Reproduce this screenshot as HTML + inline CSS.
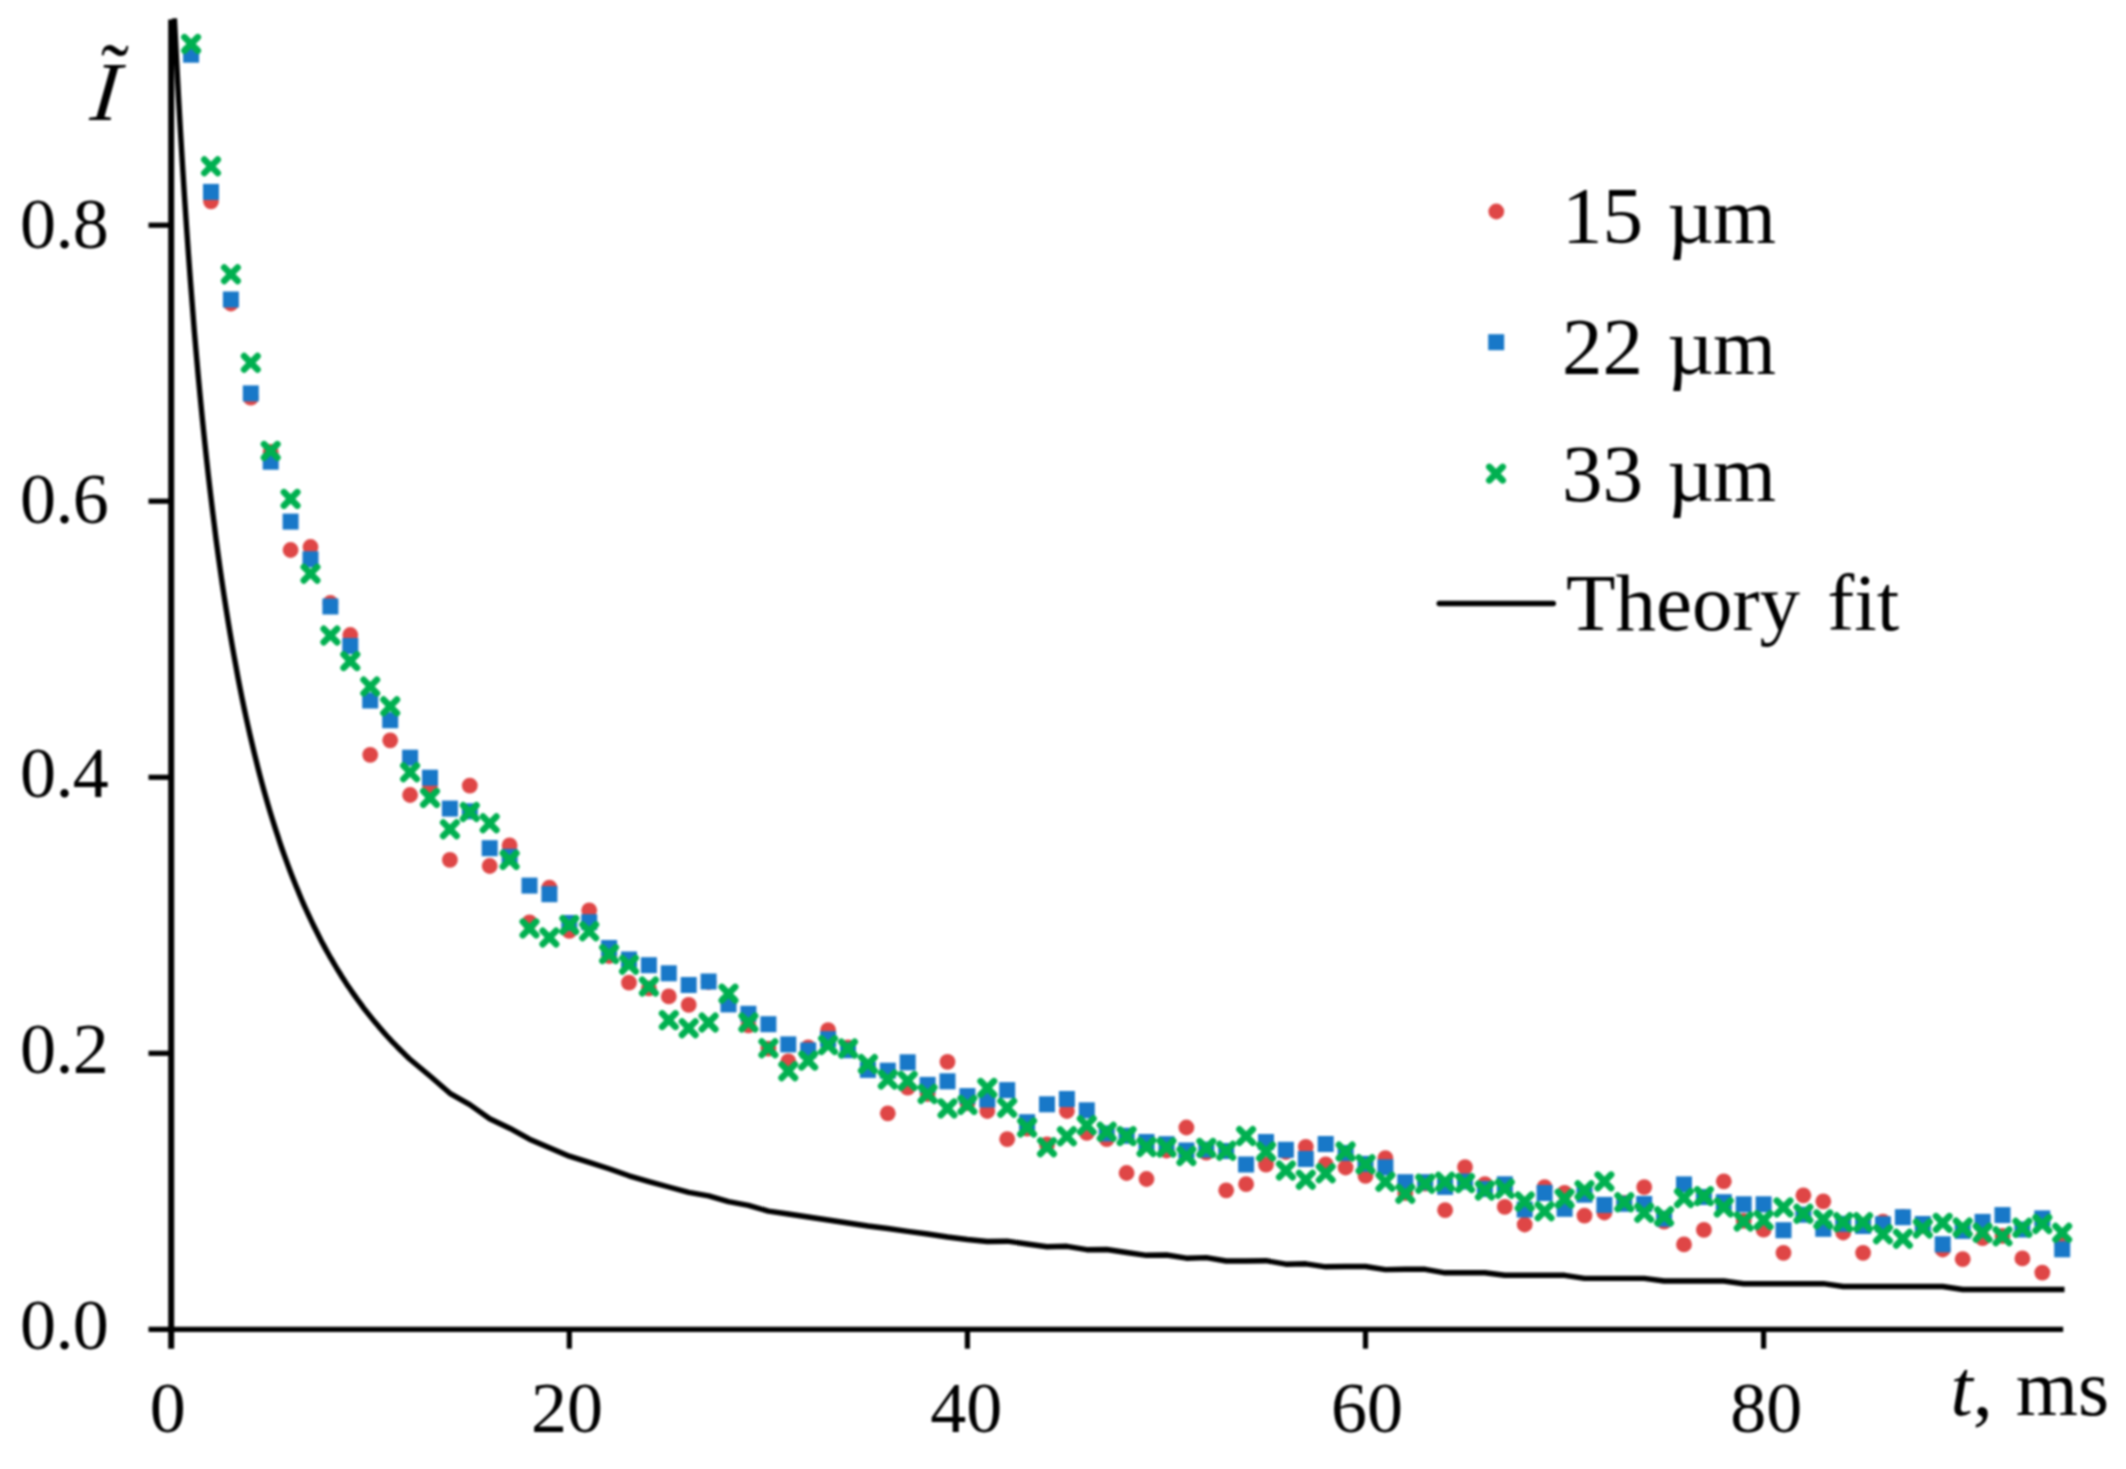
<!DOCTYPE html>
<html lang="en"><head><meta charset="utf-8"><title>Theory fit chart</title>
<style>html,body{margin:0;padding:0;background:#fff}body{width:2126px;height:1469px;overflow:hidden}svg{display:block}#wrap{width:2126px;height:1469px;filter:blur(1px)}text{font-family:"Liberation Serif","Times New Roman",serif;fill:#000}</style></head><body><div id="wrap">
<svg width="2126" height="1469" viewBox="0 0 2126 1469">
<rect width="2126" height="1469" fill="#fff"/>
<g stroke="#000" stroke-width="5.2" fill="none" stroke-linecap="butt">
<path d="M171.2 19.5V1348.7" stroke-width="6"/>
<path d="M148.5 1329.3H2063.2"/>
<path d="M148.5 1053.3H171.2"/>
<path d="M148.5 777.3H171.2"/>
<path d="M148.5 501.2H171.2"/>
<path d="M148.5 225.2H171.2"/>
<path d="M569.3 1329.3V1348.7"/>
<path d="M967.4 1329.3V1348.7"/>
<path d="M1365.5 1329.3V1348.7"/>
<path d="M1763.6 1329.3V1348.7"/>
</g>
<polyline points="174.4,18.3 176.4,57.9 178.4,95.2 180.4,130.4 182.4,163.7 184.4,195.3 186.4,225.2 188.4,253.6 190.4,280.7 192.4,306.4 194.3,330.9 196.3,354.3 198.3,376.7 200.3,398.1 202.3,418.5 204.3,438.1 206.3,456.9 208.3,475.0 210.3,492.3 212.3,509.0 214.3,525.0 216.2,540.4 218.2,555.2 220.2,569.5 222.2,583.4 224.2,596.7 226.2,609.5 228.2,622.0 230.2,634.0 232.2,645.6 234.2,656.9 236.2,667.8 238.1,678.3 240.1,688.6 242.1,698.5 244.1,708.1 246.1,717.5 248.1,726.5 250.1,735.4 252.1,743.9 254.1,752.3 256.1,760.4 258.0,768.2 260.0,775.9 262.0,783.4 264.0,790.7 266.0,797.8 268.0,804.7 270.0,811.4 272.0,818.0 274.0,824.4 276.0,830.6 278.0,836.7 279.9,842.7 281.9,848.5 283.9,854.2 285.9,859.7 287.9,865.2 289.9,870.5 291.9,875.7 293.9,880.7 295.9,885.7 297.9,890.6 299.8,895.3 301.8,900.0 303.8,904.6 305.8,909.0 307.8,913.4 309.8,917.7 311.8,921.9 313.8,926.0 315.8,930.0 317.8,934.0 319.8,937.9 321.7,941.7 323.7,945.4 325.7,949.1 327.7,952.7 329.7,956.3 331.7,959.7 333.7,963.1 335.7,966.5 337.7,969.8 339.7,973.0 341.6,976.2 343.6,979.3 345.6,982.4 347.6,985.4 349.6,988.3 351.6,991.2 353.6,994.1 355.6,996.9 357.6,999.7 359.6,1002.4 361.6,1005.1 363.5,1007.8 365.5,1010.4 367.5,1012.9 369.5,1015.4 371.5,1017.9 373.5,1020.4 375.5,1022.8 377.5,1025.1 379.5,1027.5 381.5,1029.8 383.4,1032.0 385.4,1034.3 387.4,1036.5 389.4,1038.6 391.4,1040.8 393.4,1042.9 395.4,1044.9 397.4,1047.0 399.4,1049.0 401.4,1051.0 403.4,1052.9 405.3,1054.9 407.3,1056.8 409.3,1058.7 430.0,1076.0 449.9,1093.3 469.8,1104.6 489.7,1118.8 509.6,1128.2 529.5,1139.2 549.4,1147.8 569.3,1156.2 589.2,1162.3 609.1,1168.8 629.0,1175.8 648.9,1181.6 668.8,1187.0 688.7,1192.3 708.6,1195.9 728.5,1201.7 748.4,1205.3 768.4,1211.1 788.3,1214.0 808.2,1217.0 828.1,1220.0 848.0,1223.0 867.9,1226.0 887.8,1228.5 907.7,1231.3 927.6,1234.0 947.5,1237.0 967.4,1239.5 987.3,1241.5 1007.2,1241.2 1027.1,1244.0 1047.0,1246.7 1066.9,1246.3 1086.8,1249.7 1106.7,1249.5 1126.6,1252.5 1146.5,1255.3 1166.5,1255.0 1186.4,1258.2 1206.3,1257.6 1226.2,1261.0 1246.1,1261.0 1266.0,1260.7 1285.9,1264.2 1305.8,1263.8 1325.7,1266.8 1345.6,1266.5 1365.5,1266.5 1385.4,1269.6 1405.3,1269.3 1425.2,1269.3 1445.1,1272.8 1465.0,1272.7 1484.9,1272.7 1504.8,1275.3 1524.7,1275.3 1544.6,1275.3 1564.6,1275.3 1584.5,1278.4 1604.4,1278.4 1624.3,1278.4 1644.2,1278.4 1664.1,1281.0 1684.0,1281.0 1703.9,1281.0 1723.8,1281.0 1743.7,1283.7 1763.6,1283.7 1783.5,1283.7 1803.4,1283.7 1823.3,1283.7 1843.2,1286.5 1863.1,1286.5 1883.0,1286.5 1902.9,1286.5 1922.8,1286.5 1942.7,1286.5 1962.7,1289.5 1982.6,1289.5 2002.5,1289.5 2022.4,1289.5 2042.3,1289.5 2062.2,1289.5 2064.5,1289.5" fill="none" stroke="#000" stroke-width="5.4" stroke-linejoin="round" stroke-linecap="butt"/>
<g fill="#df4646"><circle cx="191.1" cy="54.0" r="7.9"/><circle cx="211.0" cy="201.3" r="7.9"/><circle cx="230.9" cy="303.5" r="7.9"/><circle cx="250.8" cy="397.7" r="7.9"/><circle cx="270.7" cy="452.0" r="7.9"/><circle cx="290.6" cy="550.0" r="7.9"/><circle cx="310.5" cy="547.0" r="7.9"/><circle cx="330.4" cy="603.0" r="7.9"/><circle cx="350.3" cy="635.0" r="7.9"/><circle cx="370.2" cy="754.8" r="7.9"/><circle cx="390.2" cy="740.3" r="7.9"/><circle cx="410.1" cy="795.0" r="7.9"/><circle cx="430.0" cy="786.0" r="7.9"/><circle cx="449.9" cy="859.9" r="7.9"/><circle cx="469.8" cy="785.7" r="7.9"/><circle cx="489.7" cy="866.0" r="7.9"/><circle cx="509.6" cy="845.4" r="7.9"/><circle cx="529.5" cy="922.3" r="7.9"/><circle cx="549.4" cy="887.7" r="7.9"/><circle cx="569.3" cy="930.8" r="7.9"/><circle cx="589.2" cy="910.3" r="7.9"/><circle cx="609.1" cy="956.0" r="7.9"/><circle cx="629.0" cy="982.7" r="7.9"/><circle cx="648.9" cy="988.4" r="7.9"/><circle cx="668.8" cy="996.4" r="7.9"/><circle cx="688.7" cy="1004.9" r="7.9"/><circle cx="708.6" cy="982.0" r="7.9"/><circle cx="728.5" cy="1004.0" r="7.9"/><circle cx="748.4" cy="1025.3" r="7.9"/><circle cx="768.4" cy="1048.6" r="7.9"/><circle cx="788.3" cy="1061.3" r="7.9"/><circle cx="808.2" cy="1047.4" r="7.9"/><circle cx="828.1" cy="1030.2" r="7.9"/><circle cx="848.0" cy="1047.5" r="7.9"/><circle cx="867.9" cy="1068.0" r="7.9"/><circle cx="887.8" cy="1113.3" r="7.9"/><circle cx="907.7" cy="1087.7" r="7.9"/><circle cx="927.6" cy="1094.0" r="7.9"/><circle cx="947.5" cy="1061.8" r="7.9"/><circle cx="967.4" cy="1103.0" r="7.9"/><circle cx="987.3" cy="1111.0" r="7.9"/><circle cx="1007.2" cy="1139.2" r="7.9"/><circle cx="1027.1" cy="1128.6" r="7.9"/><circle cx="1047.0" cy="1144.4" r="7.9"/><circle cx="1066.9" cy="1111.0" r="7.9"/><circle cx="1086.8" cy="1132.9" r="7.9"/><circle cx="1106.7" cy="1139.2" r="7.9"/><circle cx="1126.6" cy="1173.0" r="7.9"/><circle cx="1146.5" cy="1179.0" r="7.9"/><circle cx="1166.5" cy="1150.5" r="7.9"/><circle cx="1186.4" cy="1127.5" r="7.9"/><circle cx="1206.3" cy="1152.6" r="7.9"/><circle cx="1226.2" cy="1190.3" r="7.9"/><circle cx="1246.1" cy="1184.2" r="7.9"/><circle cx="1266.0" cy="1164.6" r="7.9"/><circle cx="1285.9" cy="1152.0" r="7.9"/><circle cx="1305.8" cy="1146.8" r="7.9"/><circle cx="1325.7" cy="1164.4" r="7.9"/><circle cx="1345.6" cy="1167.5" r="7.9"/><circle cx="1365.5" cy="1175.9" r="7.9"/><circle cx="1385.4" cy="1158.1" r="7.9"/><circle cx="1405.3" cy="1193.0" r="7.9"/><circle cx="1425.2" cy="1183.6" r="7.9"/><circle cx="1445.1" cy="1210.2" r="7.9"/><circle cx="1465.0" cy="1167.1" r="7.9"/><circle cx="1484.9" cy="1184.1" r="7.9"/><circle cx="1504.8" cy="1206.9" r="7.9"/><circle cx="1524.7" cy="1224.5" r="7.9"/><circle cx="1544.6" cy="1187.2" r="7.9"/><circle cx="1564.6" cy="1192.8" r="7.9"/><circle cx="1584.5" cy="1215.6" r="7.9"/><circle cx="1604.4" cy="1212.5" r="7.9"/><circle cx="1624.3" cy="1203.0" r="7.9"/><circle cx="1644.2" cy="1187.1" r="7.9"/><circle cx="1664.1" cy="1221.7" r="7.9"/><circle cx="1684.0" cy="1244.4" r="7.9"/><circle cx="1703.9" cy="1229.9" r="7.9"/><circle cx="1723.8" cy="1181.3" r="7.9"/><circle cx="1743.7" cy="1220.8" r="7.9"/><circle cx="1763.6" cy="1229.7" r="7.9"/><circle cx="1783.5" cy="1252.8" r="7.9"/><circle cx="1803.4" cy="1195.3" r="7.9"/><circle cx="1823.3" cy="1201.3" r="7.9"/><circle cx="1843.2" cy="1232.5" r="7.9"/><circle cx="1863.1" cy="1252.8" r="7.9"/><circle cx="1883.0" cy="1221.7" r="7.9"/><circle cx="1902.9" cy="1217.0" r="7.9"/><circle cx="1922.8" cy="1226.0" r="7.9"/><circle cx="1942.7" cy="1249.5" r="7.9"/><circle cx="1962.7" cy="1259.2" r="7.9"/><circle cx="1982.6" cy="1238.2" r="7.9"/><circle cx="2002.5" cy="1236.0" r="7.9"/><circle cx="2022.4" cy="1258.4" r="7.9"/><circle cx="2042.3" cy="1272.6" r="7.9"/><circle cx="2062.2" cy="1243.0" r="7.9"/><circle cx="1496.3" cy="211.5" r="7.9"/></g>
<g fill="#1878c8"><rect x="183.1" y="46.7" width="16" height="16"/><rect x="203.0" y="183.9" width="16" height="16"/><rect x="222.9" y="291.5" width="16" height="16"/><rect x="242.8" y="385.4" width="16" height="16"/><rect x="262.7" y="453.7" width="16" height="16"/><rect x="282.6" y="513.6" width="16" height="16"/><rect x="302.5" y="551.3" width="16" height="16"/><rect x="322.4" y="598.5" width="16" height="16"/><rect x="342.3" y="638.0" width="16" height="16"/><rect x="362.2" y="692.5" width="16" height="16"/><rect x="382.2" y="712.2" width="16" height="16"/><rect x="402.1" y="749.7" width="16" height="16"/><rect x="422.0" y="769.7" width="16" height="16"/><rect x="441.9" y="800.6" width="16" height="16"/><rect x="461.8" y="803.3" width="16" height="16"/><rect x="481.7" y="840.2" width="16" height="16"/><rect x="501.6" y="848.8" width="16" height="16"/><rect x="521.5" y="877.6" width="16" height="16"/><rect x="541.4" y="886.2" width="16" height="16"/><rect x="561.3" y="915.0" width="16" height="16"/><rect x="581.2" y="914.2" width="16" height="16"/><rect x="601.1" y="940.0" width="16" height="16"/><rect x="621.0" y="951.5" width="16" height="16"/><rect x="640.9" y="957.2" width="16" height="16"/><rect x="660.8" y="965.3" width="16" height="16"/><rect x="680.7" y="977.0" width="16" height="16"/><rect x="700.6" y="973.5" width="16" height="16"/><rect x="720.5" y="996.4" width="16" height="16"/><rect x="740.4" y="1005.8" width="16" height="16"/><rect x="760.4" y="1016.2" width="16" height="16"/><rect x="780.3" y="1036.4" width="16" height="16"/><rect x="800.2" y="1042.5" width="16" height="16"/><rect x="820.1" y="1031.2" width="16" height="16"/><rect x="840.0" y="1042.2" width="16" height="16"/><rect x="859.9" y="1061.9" width="16" height="16"/><rect x="879.8" y="1062.7" width="16" height="16"/><rect x="899.7" y="1054.3" width="16" height="16"/><rect x="919.6" y="1076.9" width="16" height="16"/><rect x="939.5" y="1073.3" width="16" height="16"/><rect x="959.4" y="1088.1" width="16" height="16"/><rect x="979.3" y="1091.5" width="16" height="16"/><rect x="999.2" y="1082.1" width="16" height="16"/><rect x="1019.1" y="1114.2" width="16" height="16"/><rect x="1039.0" y="1096.3" width="16" height="16"/><rect x="1058.9" y="1091.0" width="16" height="16"/><rect x="1078.8" y="1102.3" width="16" height="16"/><rect x="1098.7" y="1125.4" width="16" height="16"/><rect x="1118.6" y="1127.8" width="16" height="16"/><rect x="1138.5" y="1134.0" width="16" height="16"/><rect x="1158.5" y="1136.2" width="16" height="16"/><rect x="1178.4" y="1142.5" width="16" height="16"/><rect x="1198.3" y="1141.6" width="16" height="16"/><rect x="1218.2" y="1143.0" width="16" height="16"/><rect x="1238.1" y="1156.5" width="16" height="16"/><rect x="1258.0" y="1134.0" width="16" height="16"/><rect x="1277.9" y="1141.8" width="16" height="16"/><rect x="1297.8" y="1151.0" width="16" height="16"/><rect x="1317.7" y="1136.0" width="16" height="16"/><rect x="1337.6" y="1145.0" width="16" height="16"/><rect x="1357.5" y="1155.9" width="16" height="16"/><rect x="1377.4" y="1159.4" width="16" height="16"/><rect x="1397.3" y="1174.2" width="16" height="16"/><rect x="1417.2" y="1174.2" width="16" height="16"/><rect x="1437.1" y="1178.9" width="16" height="16"/><rect x="1457.0" y="1173.5" width="16" height="16"/><rect x="1476.9" y="1181.0" width="16" height="16"/><rect x="1496.8" y="1176.3" width="16" height="16"/><rect x="1516.7" y="1201.5" width="16" height="16"/><rect x="1536.6" y="1185.0" width="16" height="16"/><rect x="1556.6" y="1200.8" width="16" height="16"/><rect x="1576.5" y="1186.7" width="16" height="16"/><rect x="1596.4" y="1196.9" width="16" height="16"/><rect x="1616.3" y="1195.8" width="16" height="16"/><rect x="1636.2" y="1196.0" width="16" height="16"/><rect x="1656.1" y="1210.7" width="16" height="16"/><rect x="1676.0" y="1176.4" width="16" height="16"/><rect x="1695.9" y="1189.0" width="16" height="16"/><rect x="1715.8" y="1194.2" width="16" height="16"/><rect x="1735.7" y="1196.3" width="16" height="16"/><rect x="1755.6" y="1196.3" width="16" height="16"/><rect x="1775.5" y="1222.2" width="16" height="16"/><rect x="1795.4" y="1206.7" width="16" height="16"/><rect x="1815.3" y="1220.8" width="16" height="16"/><rect x="1835.2" y="1215.8" width="16" height="16"/><rect x="1855.1" y="1218.0" width="16" height="16"/><rect x="1875.0" y="1216.3" width="16" height="16"/><rect x="1894.9" y="1209.2" width="16" height="16"/><rect x="1914.8" y="1216.0" width="16" height="16"/><rect x="1934.7" y="1236.3" width="16" height="16"/><rect x="1954.7" y="1222.9" width="16" height="16"/><rect x="1974.6" y="1213.9" width="16" height="16"/><rect x="1994.5" y="1207.1" width="16" height="16"/><rect x="2014.4" y="1221.5" width="16" height="16"/><rect x="2034.3" y="1210.4" width="16" height="16"/><rect x="2054.2" y="1241.3" width="16" height="16"/><rect x="1488.2" y="334.2" width="16" height="16"/></g>
<g stroke="#00b050" stroke-width="6.6" stroke-linecap="round" fill="none"><path d="M184.4 37.2L197.8 50.6M184.4 50.6L197.8 37.2"/><path d="M204.3 159.6L217.7 173.0M204.3 173.0L217.7 159.6"/><path d="M224.2 267.5L237.6 280.9M224.2 280.9L237.6 267.5"/><path d="M244.1 356.1L257.5 369.5M244.1 369.5L257.5 356.1"/><path d="M264.0 444.2L277.4 457.6M264.0 457.6L277.4 444.2"/><path d="M283.9 492.2L297.3 505.6M283.9 505.6L297.3 492.2"/><path d="M303.8 567.0L317.2 580.4M303.8 580.4L317.2 567.0"/><path d="M323.7 628.8L337.1 642.2M323.7 642.2L337.1 628.8"/><path d="M343.6 654.4L357.0 667.8M343.6 667.8L357.0 654.4"/><path d="M363.6 679.8L376.9 693.2M363.6 693.2L376.9 679.8"/><path d="M383.5 699.6L396.9 713.0M383.5 713.0L396.9 699.6"/><path d="M403.4 765.6L416.8 779.0M403.4 779.0L416.8 765.6"/><path d="M423.3 791.2L436.7 804.6M423.3 804.6L436.7 791.2"/><path d="M443.2 822.5L456.6 835.9M443.2 835.9L456.6 822.5"/><path d="M463.1 805.3L476.5 818.7M463.1 818.7L476.5 805.3"/><path d="M483.0 816.6L496.4 830.0M483.0 830.0L496.4 816.6"/><path d="M502.9 853.2L516.3 866.6M502.9 866.6L516.3 853.2"/><path d="M522.8 921.7L536.2 935.1M522.8 935.1L536.2 921.7"/><path d="M542.7 930.8L556.1 944.2M542.7 944.2L556.1 930.8"/><path d="M562.6 918.3L576.0 931.7M562.6 931.7L576.0 918.3"/><path d="M582.5 924.6L595.9 938.0M582.5 938.0L595.9 924.6"/><path d="M602.4 947.4L615.8 960.8M602.4 960.8L615.8 947.4"/><path d="M622.3 958.0L635.7 971.4M622.3 971.4L635.7 958.0"/><path d="M642.2 979.8L655.6 993.2M642.2 993.2L655.6 979.8"/><path d="M662.1 1013.4L675.5 1026.8M662.1 1026.8L675.5 1013.4"/><path d="M682.0 1021.5L695.4 1034.9M682.0 1034.9L695.4 1021.5"/><path d="M701.9 1015.8L715.3 1029.2M701.9 1029.2L715.3 1015.8"/><path d="M721.8 986.9L735.2 1000.3M721.8 1000.3L735.2 986.9"/><path d="M741.7 1015.8L755.1 1029.2M741.7 1029.2L755.1 1015.8"/><path d="M761.7 1041.5L775.1 1054.9M761.7 1054.9L775.1 1041.5"/><path d="M781.6 1064.5L795.0 1077.9M781.6 1077.9L795.0 1064.5"/><path d="M801.5 1053.9L814.9 1067.3M801.5 1067.3L814.9 1053.9"/><path d="M821.4 1038.4L834.8 1051.8M821.4 1051.8L834.8 1038.4"/><path d="M841.3 1041.8L854.7 1055.2M841.3 1055.2L854.7 1041.8"/><path d="M861.2 1057.3L874.6 1070.7M861.2 1070.7L874.6 1057.3"/><path d="M881.1 1072.8L894.5 1086.2M881.1 1086.2L894.5 1072.8"/><path d="M901.0 1074.2L914.4 1087.6M901.0 1087.6L914.4 1074.2"/><path d="M920.9 1087.3L934.3 1100.7M920.9 1100.7L934.3 1087.3"/><path d="M940.8 1101.7L954.2 1115.1M940.8 1115.1L954.2 1101.7"/><path d="M960.7 1098.2L974.1 1111.6M960.7 1111.6L974.1 1098.2"/><path d="M980.6 1081.2L994.0 1094.6M980.6 1094.6L994.0 1081.2"/><path d="M1000.5 1101.0L1013.9 1114.4M1000.5 1114.4L1013.9 1101.0"/><path d="M1020.4 1120.8L1033.8 1134.2M1020.4 1134.2L1033.8 1120.8"/><path d="M1040.3 1140.5L1053.7 1153.9M1040.3 1153.9L1053.7 1140.5"/><path d="M1060.2 1129.6L1073.6 1143.0M1060.2 1143.0L1073.6 1129.6"/><path d="M1080.1 1118.6L1093.5 1132.0M1080.1 1132.0L1093.5 1118.6"/><path d="M1100.0 1125.0L1113.4 1138.4M1100.0 1138.4L1113.4 1125.0"/><path d="M1119.9 1129.4L1133.3 1142.8M1119.9 1142.8L1133.3 1129.4"/><path d="M1139.8 1140.3L1153.2 1153.7M1139.8 1153.7L1153.2 1140.3"/><path d="M1159.8 1140.8L1173.2 1154.2M1159.8 1154.2L1173.2 1140.8"/><path d="M1179.7 1149.3L1193.1 1162.7M1179.7 1162.7L1193.1 1149.3"/><path d="M1199.6 1141.2L1213.0 1154.6M1199.6 1154.6L1213.0 1141.2"/><path d="M1219.5 1144.1L1232.9 1157.5M1219.5 1157.5L1232.9 1144.1"/><path d="M1239.4 1129.3L1252.8 1142.7M1239.4 1142.7L1252.8 1129.3"/><path d="M1259.3 1144.8L1272.7 1158.2M1259.3 1158.2L1272.7 1144.8"/><path d="M1279.2 1163.8L1292.6 1177.2M1279.2 1177.2L1292.6 1163.8"/><path d="M1299.1 1173.0L1312.5 1186.4M1299.1 1186.4L1312.5 1173.0"/><path d="M1319.0 1166.6L1332.4 1180.0M1319.0 1180.0L1332.4 1166.6"/><path d="M1338.9 1144.8L1352.3 1158.2M1338.9 1158.2L1352.3 1144.8"/><path d="M1358.8 1157.5L1372.2 1170.9M1358.8 1170.9L1372.2 1157.5"/><path d="M1378.7 1175.1L1392.1 1188.5M1378.7 1188.5L1392.1 1175.1"/><path d="M1398.6 1187.0L1412.0 1200.4M1398.6 1200.4L1412.0 1187.0"/><path d="M1418.5 1177.1L1431.9 1190.5M1418.5 1190.5L1431.9 1177.1"/><path d="M1438.4 1175.0L1451.8 1188.4M1438.4 1188.4L1451.8 1175.0"/><path d="M1458.3 1176.4L1471.7 1189.8M1458.3 1189.8L1471.7 1176.4"/><path d="M1478.2 1183.8L1491.6 1197.2M1478.2 1197.2L1491.6 1183.8"/><path d="M1498.1 1182.1L1511.5 1195.5M1498.1 1195.5L1511.5 1182.1"/><path d="M1518.0 1194.8L1531.4 1208.2M1518.0 1208.2L1531.4 1194.8"/><path d="M1537.9 1204.6L1551.3 1218.0M1537.9 1218.0L1551.3 1204.6"/><path d="M1557.9 1191.9L1571.3 1205.3M1557.9 1205.3L1571.3 1191.9"/><path d="M1577.8 1183.5L1591.2 1196.9M1577.8 1196.9L1591.2 1183.5"/><path d="M1597.7 1174.7L1611.1 1188.1M1597.7 1188.1L1611.1 1174.7"/><path d="M1617.6 1195.5L1631.0 1208.9M1617.6 1208.9L1631.0 1195.5"/><path d="M1637.5 1206.1L1650.9 1219.5M1637.5 1219.5L1650.9 1206.1"/><path d="M1657.4 1209.6L1670.8 1223.0M1657.4 1223.0L1670.8 1209.6"/><path d="M1677.3 1191.3L1690.7 1204.7M1677.3 1204.7L1690.7 1191.3"/><path d="M1697.2 1189.4L1710.6 1202.8M1697.2 1202.8L1710.6 1189.4"/><path d="M1717.1 1200.7L1730.5 1214.1M1717.1 1214.1L1730.5 1200.7"/><path d="M1737.0 1214.8L1750.4 1228.2M1737.0 1228.2L1750.4 1214.8"/><path d="M1756.9 1213.4L1770.3 1226.8M1756.9 1226.8L1770.3 1213.4"/><path d="M1776.8 1200.7L1790.2 1214.1M1776.8 1214.1L1790.2 1200.7"/><path d="M1796.7 1207.0L1810.1 1220.4M1796.7 1220.4L1810.1 1207.0"/><path d="M1816.6 1212.7L1830.0 1226.1M1816.6 1226.1L1830.0 1212.7"/><path d="M1836.5 1215.5L1849.9 1228.9M1836.5 1228.9L1849.9 1215.5"/><path d="M1856.4 1215.5L1869.8 1228.9M1856.4 1228.9L1869.8 1215.5"/><path d="M1876.3 1227.5L1889.7 1240.9M1876.3 1240.9L1889.7 1227.5"/><path d="M1896.2 1232.0L1909.6 1245.4M1896.2 1245.4L1909.6 1232.0"/><path d="M1916.1 1221.8L1929.5 1235.2M1916.1 1235.2L1929.5 1221.8"/><path d="M1936.0 1216.2L1949.4 1229.6M1936.0 1229.6L1949.4 1216.2"/><path d="M1956.0 1220.8L1969.4 1234.2M1956.0 1234.2L1969.4 1220.8"/><path d="M1975.9 1226.1L1989.3 1239.5M1975.9 1239.5L1989.3 1226.1"/><path d="M1995.8 1229.6L2009.2 1243.0M1995.8 1243.0L2009.2 1229.6"/><path d="M2015.7 1221.1L2029.1 1234.5M2015.7 1234.5L2029.1 1221.1"/><path d="M2035.6 1217.3L2049.0 1230.7M2035.6 1230.7L2049.0 1217.3"/><path d="M2055.5 1226.1L2068.9 1239.5M2055.5 1239.5L2068.9 1226.1"/><path d="M1489.3 466.9L1502.7 480.3M1489.3 480.3L1502.7 466.9"/></g>
<path d="M1439.2 603.5H1553.3" stroke="#000" stroke-width="5.4" stroke-linecap="round"/>
<g font-size="72">
<text x="20" y="1349.3" letter-spacing="-0.6">0.0</text>
<text x="20" y="1073.0" letter-spacing="-0.6">0.2</text>
<text x="20" y="797.0" letter-spacing="-0.6">0.4</text>
<text x="20" y="523.0" letter-spacing="-0.6">0.6</text>
<text x="20" y="248.3" letter-spacing="-0.6">0.8</text>
<text x="167.8" y="1431.5" text-anchor="middle">0</text>
<text x="567.0" y="1431.5" text-anchor="middle">20</text>
<text x="966.3" y="1431.5" text-anchor="middle">40</text>
<text x="1367.1" y="1431.5" text-anchor="middle">60</text>
<text x="1766.2" y="1431.5" text-anchor="middle">80</text>
</g>
<g font-size="81" word-spacing="4">
<text x="1562" y="243.2">15 <tspan letter-spacing="-1">µm</tspan></text>
<text x="1562" y="373.6">22 <tspan letter-spacing="-1">µm</tspan></text>
<text x="1562" y="501">33 <tspan letter-spacing="-1">µm</tspan></text>
<text x="1566" y="629.9" word-spacing="7">Theory fit</text>
</g>
<text x="1950.5" y="1414.5" font-size="80" word-spacing="3"><tspan font-style="italic">t</tspan>, ms</text>
<text x="89" y="120.3" font-size="84" font-style="italic" transform="translate(89,120.3) skewX(-6) translate(-89,-120.3)">I</text>
<text x="101" y="102" font-size="84">˜</text>
</svg></div></body></html>
